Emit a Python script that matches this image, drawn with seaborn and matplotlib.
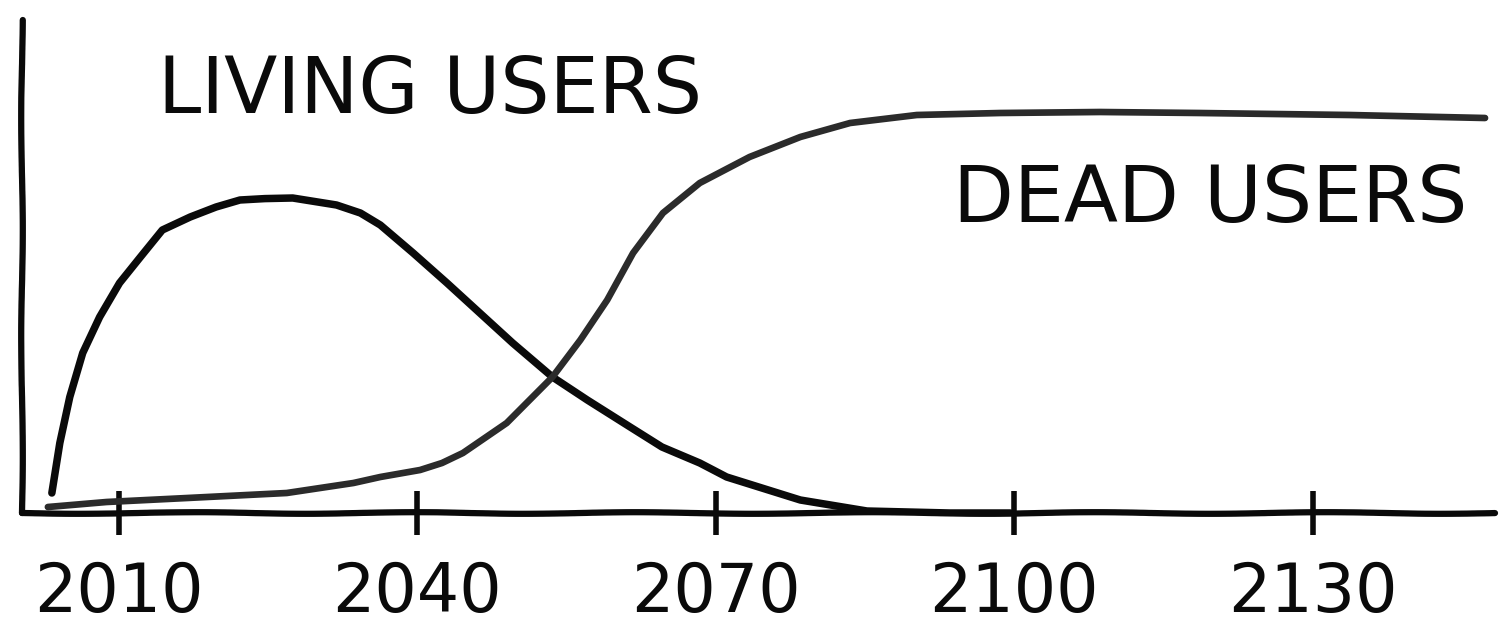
import matplotlib
matplotlib.use("Agg")
import matplotlib.pyplot as plt
import pandas as pd
import seaborn as sns

# share of users, 0 = on the axis, 100 = plateau of the dead-users curve
living_years = [2003.3, 2004.1, 2005.1, 2006.4, 2008.1, 2010.1, 2012.2, 2014.4, 2017.2,
                2019.8, 2022.2, 2024.7, 2027.5, 2031.9, 2034.3, 2036.3, 2039.6, 2043.0,
                2046.3, 2049.6, 2053.6, 2057.1, 2061.4, 2064.6, 2068.4, 2071.1,
                2078.5, 2085.2, 2093.5, 2099.6]
living_users = [5.0, 17.5, 29.0, 40.0, 49.0, 57.5, 64.0, 70.75, 74.0,
                76.5, 78.25, 78.6, 78.75, 77.0, 75.0, 72.0, 65.0, 57.5,
                50.0, 42.5, 34.0, 28.25, 21.5, 16.5, 12.5, 9.0,
                3.25, 0.5, 0, 0]

dead_years = [2002.9, 2008.8, 2016.9, 2026.9, 2033.6, 2036.3, 2040.3, 2042.5, 2044.6,
              2049.0, 2053.6, 2056.4, 2059.1, 2061.7, 2064.7, 2068.4, 2073.4,
              2078.5, 2083.5, 2090.2, 2098.6, 2108.6, 2118.6, 2133.7, 2147.3]
dead_users = [1.5, 2.75, 3.75, 5.0, 7.5, 9.0, 10.75, 12.5, 15.0,
              22.5, 34.0, 43.25, 53.25, 65.0, 75.0, 82.5, 89.0,
              94.0, 97.5, 99.5, 100.0, 100.25, 100.0, 99.5, 98.75]

tick_years = [2010, 2040, 2070, 2100, 2130]

df = pd.concat([
    pd.DataFrame({"year": living_years, "users": living_users, "kind": "living"}),
    pd.DataFrame({"year": dead_years, "users": dead_users, "kind": "dead"}),
])

sns.set_style("white")
plt.rcParams["font.family"] = ["DejaVu Sans"]
plt.rcParams["lines.solid_joinstyle"] = "round"
plt.rcParams["lines.solid_capstyle"] = "round"

fig = plt.figure(figsize=(15.01, 6.37), dpi=100)
ax = fig.add_axes([22 / 1501, 124 / 637, 1473 / 1501, 493 / 637])

sns.lineplot(data=df, x="year", y="users", hue="kind",
             palette={"living": "#0a0a0a", "dead": "#2b2b2b"},
             size="kind", sizes={"living": 5.4, "dead": 4.8},
             legend=False, sort=False, estimator=None, ax=ax)

ax.set_xlim(2000.3, 2148.3)
ax.set_ylim(0, 123.25)
ax.set_xticks(tick_years)
ax.set_xticklabels([str(y) for y in tick_years])
ax.set_yticks([])
ax.set_xlabel("")
ax.set_ylabel("")
ax.tick_params(axis="x", bottom=True, direction="inout", length=32, width=4,
               pad=18, labelsize=48, colors="#0a0a0a")
for tick in ax.xaxis.get_major_ticks():
    tick.tick1line.set_sketch_params(1.0, 60, 2)

for side in ["top", "right"]:
    ax.spines[side].set_visible(False)
for side in ["left", "bottom"]:
    ax.spines[side].set_linewidth(4.5)
    ax.spines[side].set_color("#0a0a0a")
    ax.spines[side].set_capstyle("round")
    ax.spines[side].set_sketch_params(0.8, 250, 2)

ax.text(2014.0, 100, "LIVING USERS", fontsize=56, color="#0a0a0a",
        ha="left", va="baseline")
ax.text(2145.5, 72.75, "DEAD USERS", fontsize=57, color="#0a0a0a",
        ha="right", va="baseline")

fig.savefig("out.png", dpi=100, facecolor="white")
